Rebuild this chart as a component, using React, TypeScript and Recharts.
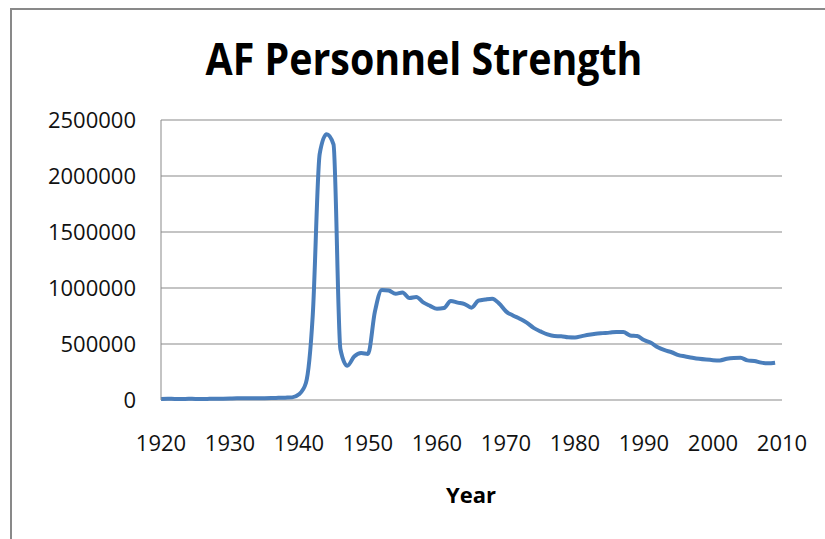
import React from "react";
import { CartesianGrid, Line, LineChart, XAxis, YAxis } from "recharts";

const years = [
  1920, 1921, 1922, 1923, 1924, 1925, 1926, 1927, 1928, 1929,
  1930, 1931, 1932, 1933, 1934, 1935, 1936, 1937, 1938, 1939,
  1940, 1941, 1942, 1943, 1944, 1945, 1946, 1947, 1948, 1949,
  1950, 1951, 1952, 1953, 1954, 1955, 1956, 1957, 1958, 1959,
  1960, 1961, 1962, 1963, 1964, 1965, 1966, 1967, 1968, 1969,
  1970, 1971, 1972, 1973, 1974, 1975, 1976, 1977, 1978, 1979,
  1980, 1981, 1982, 1983, 1984, 1985, 1986, 1987, 1988, 1989,
  1990, 1991, 1992, 1993, 1994, 1995, 1996, 1997, 1998, 1999,
  2000, 2001, 2002, 2003, 2004, 2005, 2006, 2007, 2008, 2009,
];

const strength = [
  9050, 11649, 9642, 9441, 10547, 9670, 9674, 10078, 10549, 12131,
  13531, 14780, 15028, 15099, 15861, 16247, 17233, 19147, 21089, 23455,
  51165, 152125, 764415, 2197114, 2372292, 2282259, 455515, 305827, 387730, 419347,
  411277, 788381, 983261, 977593, 947918, 959946, 909958, 919835, 871156, 840435,
  814752, 821151, 884025, 869431, 856798, 824662, 886350, 897494, 904759, 862353,
  791349, 755107, 725635, 690999, 643970, 612551, 585207, 570479, 569491, 559450,
  557969, 570302, 582845, 592044, 597125, 601515, 608199, 607035, 576446, 570880,
  535233, 510432, 470315, 444351, 426327, 400409, 389001, 377385, 367470, 360590,
  355654, 353571, 368251, 375062, 376616, 353696, 348953, 333495, 327452, 333408,
];

const xTicks = [1920, 1930, 1940, 1950, 1960, 1970, 1980, 1990, 2000, 2010];
const yTicks = [0, 500000, 1000000, 1500000, 2000000, 2500000];

const data = years.map((year, i) => ({ year, strength: strength[i] }));

const font = "'Open Sans', 'Liberation Sans', sans-serif";
const grey = "#898989";

export default function App() {
  return (
    <div
      style={{
        position: "absolute",
        left: 0,
        top: 0,
        width: 825,
        height: 539,
        overflow: "hidden",
        background: "#fff",
        fontFamily: font,
      }}
    >
      <div
        style={{
          position: "absolute",
          left: 10,
          top: 8,
          width: 840,
          height: 560,
          border: `2px solid ${grey}`,
        }}
      />
      <LineChart
        width={825}
        height={539}
        data={data}
        margin={{ top: 120, right: 43, left: 0, bottom: 0 }}
      >
        <CartesianGrid vertical={false} stroke={grey} />
        <XAxis
          dataKey="year"
          type="number"
          domain={[1920, 2010]}
          ticks={xTicks}
          interval={0}
          height={139}
          axisLine={false}
          tickLine={false}
          tickMargin={29}
          tick={{ fill: "#111", fontSize: 22, fontFamily: font }}
        />
        <YAxis
          type="number"
          domain={[0, 2500000]}
          ticks={yTicks}
          interval={0}
          width={161}
          axisLine={{ stroke: grey }}
          tickLine={false}
          tickMargin={19}
          tick={{ fill: "#111", fontSize: 22, fontFamily: font }}
        />
        <Line
          type="monotone"
          dataKey="strength"
          stroke="#4A7EBB"
          strokeWidth={4}
          dot={false}
          activeDot={false}
          isAnimationActive={false}
        />
      </LineChart>
      <svg
        width={825}
        height={539}
        style={{ position: "absolute", left: 0, top: 0, pointerEvents: "none" }}
      >
        <text
          x={424}
          y={75}
          textAnchor="middle"
          fontSize={44}
          fontWeight="bold"
          fontFamily={font}
          textLength={437}
          lengthAdjust="spacingAndGlyphs"
          fill="#000"
        >
          AF Personnel Strength
        </text>
        <text
          x={471}
          y={503}
          textAnchor="middle"
          fontSize={22}
          fontWeight="bold"
          fontFamily={font}
          fill="#000"
        >
          Year
        </text>
      </svg>
    </div>
  );
}
